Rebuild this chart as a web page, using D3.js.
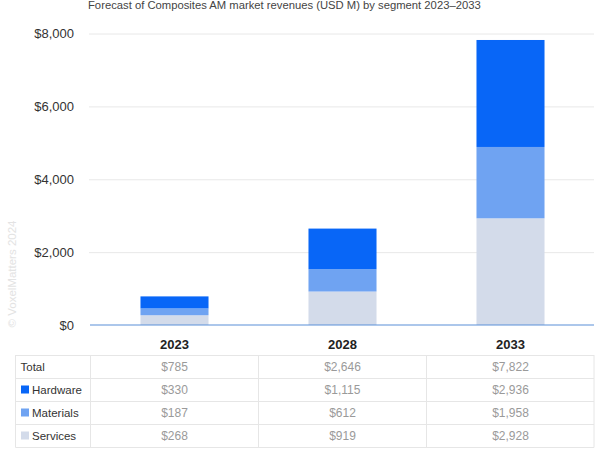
<!DOCTYPE html>
<html><head><meta charset="utf-8">
<script src="https://cdn.jsdelivr.net/npm/d3@7"></script>
<style>body{margin:0;background:#fff;}svg{display:block;font-family:"Liberation Sans",Arial,sans-serif;}</style>
</head><body>
<svg id="c" width="600" height="450"></svg>
<script>
const years = ["2023","2028","2033"];
const seriesNames = ["Services","Materials","Hardware"];
const services = [268, 919, 2928];
const materials = [187, 612, 1958];
const hardware = [330, 1115, 2936];
const totals = [785, 2646, 7822];
const yTicks = [0, 2000, 4000, 6000, 8000];
const colors = {Hardware:"#0866f7", Materials:"#6fa3f2", Services:"#d3dbea"};
const title = "Forecast of Composites AM market revenues (USD M) by segment 2023–2033";

const svg = d3.select("#c");
const x = d3.scaleBand().domain(years).range([90.5, 594.5]).paddingInner(0.595).paddingOuter(0.2975);
const y = d3.scaleLinear().domain([0, 8000]).range([325, 33.5]);

svg.append("text").attr("x", 88).attr("y", 9).attr("font-size", 11.25).attr("fill", "#444").text(title);

// watermark
svg.append("text").attr("transform", "translate(16,274) rotate(-90)").attr("text-anchor", "middle")
  .attr("font-size", 11.5).attr("fill", "#e3e3e3").text("© VoxelMatters 2024");

// gridlines
const yAxis = d3.axisLeft(y).tickValues(yTicks).tickSize(-(594 - 89)).tickPadding(15)
  .tickFormat(d => "$" + d3.format(",")(d));
const ga = svg.append("g").attr("transform", "translate(89,0)").call(yAxis);
ga.select(".domain").remove();
ga.selectAll(".tick line").attr("stroke", "#e8e8e8").attr("stroke-width", 1);
ga.selectAll(".tick text").attr("font-size", 13).attr("fill", "#333").attr("font-family", "Liberation Sans, Arial, sans-serif");
ga.selectAll(".tick").filter(d => d === 0).select("line").remove();

// stacked bars
const rows = years.map((yr, i) => ({year: yr, Services: services[i], Materials: materials[i], Hardware: hardware[i]}));
const stack = d3.stack().keys(seriesNames)(rows);
svg.append("g").selectAll("g").data(stack).join("g").attr("fill", d => colors[d.key])
  .selectAll("rect").data(d => d).join("rect")
  .attr("x", d => x(d.data.year)).attr("width", x.bandwidth())
  .attr("y", d => y(d[1])).attr("height", d => y(d[0]) - y(d[1]));

// baseline
svg.append("line").attr("x1", 90).attr("x2", 594).attr("y1", y(0)).attr("y2", y(0))
  .attr("stroke", "#5b8fd8").attr("stroke-width", 1.2);

// year headers
svg.append("g").selectAll("text").data(years).join("text")
  .attr("x", d => x(d) + x.bandwidth() / 2).attr("y", 348.5).attr("text-anchor", "middle")
  .attr("font-size", 13).attr("font-weight", "bold").attr("fill", "#222").text(d => d);

// table
const tableRows = [
  {label: "Total", vals: totals, key: null},
  {label: "Hardware", vals: hardware, key: "Hardware"},
  {label: "Materials", vals: materials, key: "Materials"},
  {label: "Services", vals: services, key: "Services"}
];
const tTop = 355, rowH = 23, tLeft = 15.5, tRight = 594;
const colEdges = [tLeft, 90.5].concat(years.map(d => x(d) + x.bandwidth() / 2 + x.step() / 2));
colEdges[colEdges.length - 1] = tRight;
const tg = svg.append("g");
d3.range(tableRows.length + 1).forEach(i => {
  tg.append("line").attr("x1", tLeft).attr("x2", tRight).attr("y1", tTop + i * rowH + 0.5).attr("y2", tTop + i * rowH + 0.5)
    .attr("stroke", "#e6e6e6");
});
colEdges.forEach(cx => {
  tg.append("line").attr("x1", cx).attr("x2", cx).attr("y1", tTop).attr("y2", tTop + tableRows.length * rowH + 0.5)
    .attr("stroke", "#e6e6e6");
});
tableRows.forEach((r, i) => {
  const cy = tTop + i * rowH + rowH / 2;
  if (r.key) {
    tg.append("rect").attr("x", 21).attr("y", cy - 4).attr("width", 8).attr("height", 8).attr("fill", colors[r.key]);
    tg.append("text").attr("x", 32).attr("y", cy + 4).attr("font-size", 11.5).attr("fill", "#333").text(r.label);
  } else {
    tg.append("text").attr("x", 20.5).attr("y", cy + 4).attr("font-size", 11.5).attr("fill", "#333").text(r.label);
  }
  tg.selectAll(null).data(r.vals).join("text")
    .attr("x", (d, j) => x(years[j]) + x.bandwidth() / 2).attr("y", cy + 4).attr("text-anchor", "middle")
    .attr("font-size", 12).attr("fill", "#9a9a9a").text(d => "$" + d3.format(",")(d));
});
</script>
</body></html>
